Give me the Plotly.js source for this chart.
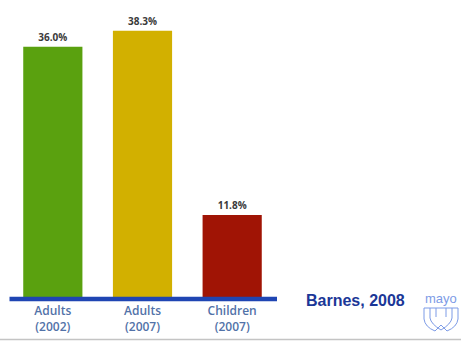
<!DOCTYPE html>
<html><head><meta charset="utf-8">
<script src="https://cdn.plot.ly/plotly-3.0.1.min.js"></script>
<style>html,body{margin:0;padding:0;background:#fff}#chart{width:461px;height:341px}</style>
</head><body><div id="chart"></div>
<script>
const categories = ["Adults<br>(2002)", "Adults<br>(2007)", "Children<br>(2007)"];
const values = [36.0, 38.3, 11.8];
const valueLabels = ["36.0%", "38.3%", "11.8%"];
const barColors = ["#5aa10f", "#d2b000", "#a01405"];

const W = 461, H = 341, L = 8, R = 277, T = 19, B = 297;
const px = x => (x - L) / (R - L);
const py = y => (B - y) / (B - T);

const shieldColor = "#7d9be6";
const shapes = [
  {type:'line', xref:'paper', yref:'paper', x0:px(0), x1:px(461), y0:py(339.5), y1:py(339.5), line:{color:'#c4c4c4', width:1.5}},
  {type:'line', xref:'paper', yref:'paper', x0:px(9.5), x1:px(277), y0:py(299), y1:py(299), line:{color:'#1f45b3', width:4.5}},
  {type:'path', xref:'paper', yref:'paper', line:{color:shieldColor, width:1}, path:
    'M'+px(424)+','+py(308)+' L'+px(458)+','+py(308)+' L'+px(458)+','+py(319)+' Q'+px(457)+','+py(327)+' '+px(447)+','+py(331)+
    ' L'+px(441)+','+py(325)+' L'+px(435)+','+py(331)+' Q'+px(425)+','+py(327)+' '+px(424)+','+py(319)+' Z'},
  {type:'path', xref:'paper', yref:'paper', line:{color:shieldColor, width:1}, path:
    'M'+px(430)+','+py(308)+' L'+px(430)+','+py(318)+' Q'+px(431)+','+py(324)+' '+px(441)+','+py(330)+' Q'+px(451)+','+py(324)+' '+px(452)+','+py(318)+' L'+px(452)+','+py(308)},
  {type:'path', xref:'paper', yref:'paper', line:{color:shieldColor, width:1}, path:
    'M'+px(436)+','+py(308)+' L'+px(436)+','+py(317)+' M'+px(446)+','+py(308)+' L'+px(446)+','+py(317)}
];

const data = [{
  type:'bar', x:categories, y:values, text:valueLabels, textposition:'outside',
  textfont:{family:'Open Sans, Arial', size:10, color:'#3a3a3a', weight:700},
  cliponaxis:false,
  marker:{color:barColors}, width:0.66, hoverinfo:'none'
}];

const layout = {
  width:W, height:H, margin:{l:L, r:W-R, t:T, b:H-B},
  paper_bgcolor:'#fff', plot_bgcolor:'#fff', showlegend:false,
  xaxis:{type:'category', range:[-0.5,2.5], showgrid:false, zeroline:false, showline:false, ticks:'',
    tickfont:{family:'Open Sans, Arial', size:12, color:'#5272a8', weight:600}, ticklabelstandoff:5},
  yaxis:{range:[0,40], visible:false, showgrid:false, zeroline:false},
  shapes:shapes,
  annotations:[
    {xref:'paper', yref:'paper', x:px(355), y:py(300), text:'Barnes, 2008', showarrow:false,
     font:{family:'Liberation Sans, Arial', size:16, color:'#1b3797', weight:700}, xanchor:'center', yanchor:'middle'},
    {xref:'paper', yref:'paper', x:px(441), y:py(298), text:'mayo', showarrow:false,
     font:{family:'Liberation Sans, Arial', size:13, color:shieldColor}, xanchor:'center', yanchor:'middle'}
  ]
};
Plotly.newPlot('chart', data, layout, {displayModeBar:false, staticPlot:true});
</script></body></html>
